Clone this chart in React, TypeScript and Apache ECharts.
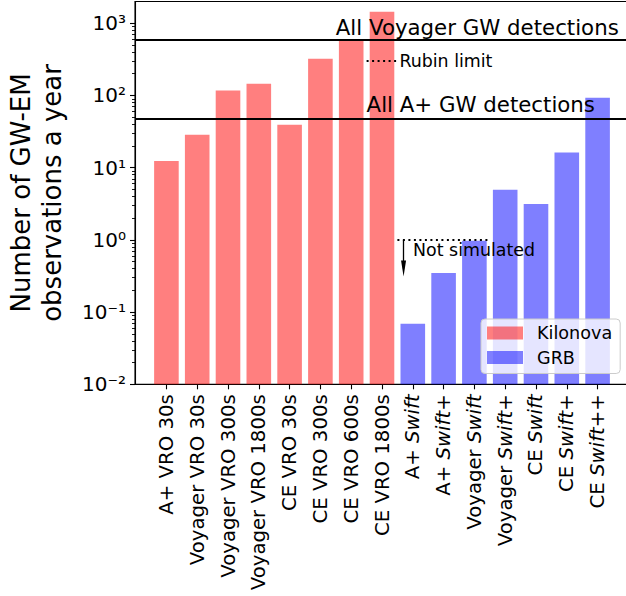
import React, { useEffect, useRef } from 'react';
import * as echarts from 'echarts';

const CATEGORIES = [
  'A+ VRO 30s',
  'Voyager VRO 30s',
  'Voyager VRO 300s',
  'Voyager VRO 1800s',
  'CE VRO 30s',
  'CE VRO 300s',
  'CE VRO 600s',
  'CE VRO 1800s',
  'A+ Swift',
  'A+ Swift+',
  'Voyager Swift',
  'Voyager Swift+',
  'CE Swift',
  'CE Swift+',
  'CE Swift++',
];
const KILONOVA_VALUES = [12.4, 28.5, 117, 145, 39.2, 321, 570, 1439];
const GRB_VALUES = [0.0687, 0.349, 0.97, 4.93, 3.15, 16.2, 92.6];

const Y_MAJOR_TICKS = [0.01, 0.1, 1, 10, 100, 1000];
const Y_MINOR_TICKS = [
  0.02, 0.03, 0.04, 0.05, 0.06, 0.07, 0.08, 0.09,
  0.2, 0.3, 0.4, 0.5, 0.6, 0.7, 0.8, 0.9,
  2, 3, 4, 5, 6, 7, 8, 9,
  20, 30, 40, 50, 60, 70, 80, 90,
  200, 300, 400, 500, 600, 700, 800, 900,
];
const Y_MIN = 0.01;
const Y_MAX = 2000;

const ALL_VOYAGER_GW = 600;
const ALL_APLUS_GW = 47;
const RUBIN_LIMIT = 300;
const NOT_SIMULATED_LEVEL = 1;
const NOT_SIMULATED_ARROW_END = 0.4;

const FONT = 'DejaVu Sans';
const SUP: Record<string, string> = {
  '0': '\u2070', '1': '\u00B9', '2': '\u00B2', '3': '\u00B3', '4': '\u2074',
  '5': '\u2075', '6': '\u2076', '7': '\u2077', '8': '\u2078', '9': '\u2079', '-': '\u207B',
};
const powLabel = (v: number) => {
  const n = Math.round(Math.log10(v));
  return '10' + String(n).split('').map((c) => SUP[c] ?? c).join('');
};

const dotted = { color: '#000', width: 2, type: [2, 3.5] as number[], cap: 'butt' as const };

function buildOption() {
  const kilonovaData = KILONOVA_VALUES.map((v, i) => [i, v]);
  const grbData = GRB_VALUES.map((v, i) => [i + KILONOVA_VALUES.length, v]);
  const idx = CATEGORIES.map((_, i) => i);
  const textLabel = (text: string, size: number) => ({
    show: true,
    formatter: text,
    position: 'right',
    distance: 0,
    color: '#000',
    fontSize: size,
    fontFamily: FONT,
  });
  return {
    animation: false,
    backgroundColor: '#fff',
    textStyle: { fontFamily: FONT },
    grid: {
      left: 135,
      right: -3,
      top: 1.5,
      bottom: 211.7,
      show: true,
      borderColor: '#000',
      borderWidth: 1.1,
      containLabel: false,
      outerBoundsMode: 'none',
    },
    legend: {
      data: ['Kilonova', 'GRB'],
      orient: 'vertical',
      left: 481,
      top: 319,
      itemWidth: 36,
      itemHeight: 13,
      itemGap: 6.5,
      icon: 'rect',
      padding: [5, 8, 7, 6],
      backgroundColor: 'rgba(255,255,255,0.8)',
      borderColor: '#cccccc',
      borderWidth: 1,
      borderRadius: 4,
      textStyle: { fontSize: 17.6, color: '#000', fontFamily: FONT, padding: [0, 0, 0, 9] },
    },
    xAxis: {
      type: 'value',
      min: -1.02,
      max: 15.02,
      splitLine: { show: false },
      axisLine: { show: true, onZero: false, lineStyle: { color: '#000', width: 1.1 } },
      axisTick: { show: true, customValues: idx, length: 5, lineStyle: { color: '#000', width: 1.1 } },
      axisLabel: {
        customValues: idx,
        rotate: 90,
        margin: 10,
        color: '#000',
        fontSize: 19.7,
        fontFamily: FONT,
        formatter: (v: number) => (CATEGORIES[Math.round(v)] ?? '').replace('Swift', '{i|Swift}'),
        rich: { i: { fontStyle: 'italic', fontSize: 19.7, fontFamily: FONT, color: '#000' } },
      },
    },
    yAxis: [
      {
        type: 'log',
        logBase: 10,
        min: Y_MIN,
        max: Y_MAX,
        startValue: Y_MIN,
        name: 'Number of GW-EM\nobservations a year',
        nameLocation: 'middle',
        nameRotate: 90,
        nameGap: 68,
        nameTextStyle: { fontSize: 26, lineHeight: 31, color: '#000', fontFamily: FONT },
        splitLine: { show: false },
        axisLine: { show: true, onZero: false, lineStyle: { color: '#000', width: 1.1 } },
        axisTick: { show: true, customValues: Y_MAJOR_TICKS, length: 5, lineStyle: { color: '#000', width: 1.1 } },
        axisLabel: {
          customValues: Y_MAJOR_TICKS,
          margin: 9,
          color: '#000',
          fontSize: 20,
          fontFamily: FONT,
          formatter: (v: number) => powLabel(v),
        },
      },
      {
        type: 'log',
        logBase: 10,
        min: Y_MIN,
        max: Y_MAX,
        position: 'left',
        splitLine: { show: false },
        axisLine: { show: false, onZero: false },
        axisLabel: { show: false },
        axisTick: { show: true, customValues: Y_MINOR_TICKS, length: 3, lineStyle: { color: '#000', width: 0.9 } },
      },
    ],
    series: [
      {
        name: 'Kilonova',
        type: 'bar',
        data: kilonovaData,
        barWidth: 24.6,
        barGap: '-100%',
        itemStyle: { color: 'rgba(255,0,0,0.5)' },
      },
      {
        name: 'GRB',
        type: 'bar',
        data: grbData,
        barWidth: 24.6,
        barGap: '-100%',
        itemStyle: { color: 'rgba(0,0,255,0.5)' },
        markLine: {
          silent: true,
          symbol: ['none', 'none'],
          label: { show: false },
          lineStyle: { color: '#000', width: 2, type: 'solid' },
          data: [
            { yAxis: ALL_VOYAGER_GW },
            { yAxis: ALL_APLUS_GW },
            [
              { coord: [6.5, RUBIN_LIMIT], lineStyle: dotted },
              {
                coord: [7.5, RUBIN_LIMIT],
                label: {
                  show: true,
                  position: 'end',
                  formatter: 'Rubin limit',
                  distance: 2,
                  color: '#000',
                  fontSize: 17.4,
                  fontFamily: FONT,
                },
              },
            ],
            [
              { coord: [7.5, NOT_SIMULATED_LEVEL], lineStyle: dotted },
              { coord: [10.5, NOT_SIMULATED_LEVEL] },
            ],
            [
              { coord: [7.7, NOT_SIMULATED_LEVEL], lineStyle: { color: '#000', width: 1.3, type: 'solid' } },
              { coord: [7.7, NOT_SIMULATED_ARROW_END], symbol: 'triangle', symbolSize: [5, 16] },
            ],
          ],
        },
        markPoint: {
          silent: true,
          symbol: 'rect',
          symbolSize: 0,
          itemStyle: { color: 'transparent' },
          data: [
            { coord: [5.5, 872], label: textLabel('All Voyager GW detections', 21.3) },
            { coord: [6.5, 75.5], label: textLabel('All A+ GW detections', 21.3) },
            { coord: [8.01, 0.727], label: textLabel('Not simulated', 17.4) },
          ],
        },
      },
    ],
  };
}

export default function App() {
  const ref = useRef<HTMLDivElement>(null);
  useEffect(() => {
    if (!ref.current) return;
    const chart = echarts.init(ref.current, undefined, { renderer: 'svg' });
    chart.setOption(buildOption() as any);
    return () => chart.dispose();
  }, []);
  return (
    <div
      ref={ref}
      style={{ position: 'fixed', left: 0, top: 0, width: 626, height: 596, background: '#fff' }}
    />
  );
}
